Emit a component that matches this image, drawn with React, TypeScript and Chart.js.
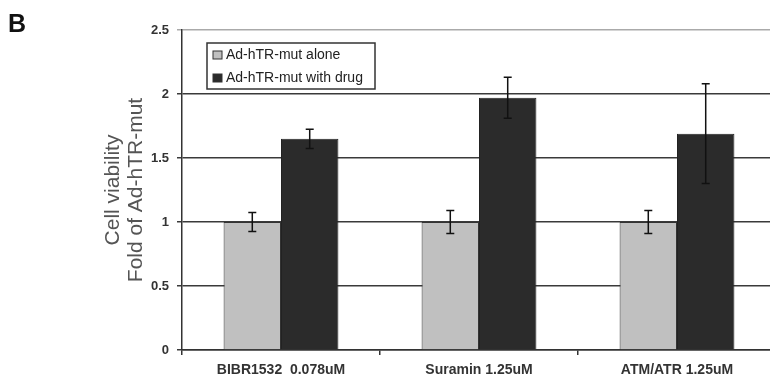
import React, { useEffect, useRef } from "react";
import { Chart, registerables } from "chart.js";

Chart.register(...registerables);

const categories = ["BIBR1532  0.078uM", "Suramin 1.25uM", "ATM/ATR 1.25uM"];
const aloneValues = [1, 1, 1];
const aloneErrors = [0.075, 0.09, 0.09];
const drugValues = [1.65, 1.97, 1.69];
const drugErrors = [0.075, 0.16, 0.39];
const seriesLabels = ["Ad-hTR-mut alone", "Ad-hTR-mut with drug"];
const yTitleLines = ["Cell viability", "Fold of Ad-hTR-mut"];
const panelLabel = "B";

const FONT = "'Liberation Sans', Arial, sans-serif";
const errorsBySeries = [aloneErrors, drugErrors];

const errorBarPlugin = {
  id: "errorBars",
  afterDatasetsDraw(chart: any) {
    const ctx = chart.ctx;
    const y = chart.scales.y;
    ctx.save();
    ctx.strokeStyle = "#111";
    ctx.lineWidth = 1.5;
    chart.data.datasets.forEach((ds: any, i: number) => {
      const meta = chart.getDatasetMeta(i);
      meta.data.forEach((el: any, j: number) => {
        const v = ds.data[j];
        const e = errorsBySeries[i][j];
        const yt = y.getPixelForValue(v + e);
        const yb = y.getPixelForValue(v - e);
        const x = el.x;
        const cap = 4;
        ctx.beginPath();
        ctx.moveTo(x, yt);
        ctx.lineTo(x, yb);
        ctx.moveTo(x - cap, yt);
        ctx.lineTo(x + cap, yt);
        ctx.moveTo(x - cap, yb);
        ctx.lineTo(x + cap, yb);
        ctx.stroke();
      });
    });
    ctx.restore();
  },
};

const decorPlugin = {
  id: "decor",
  afterDraw(chart: any) {
    const ctx = chart.ctx;
    const area = chart.chartArea;
    ctx.save();
    // panel label
    ctx.fillStyle = "#111";
    ctx.font = `bold 25px ${FONT}`;
    ctx.textAlign = "left";
    ctx.textBaseline = "middle";
    ctx.fillText(panelLabel, 8, 25);

    // y title
    const cy = (area.top + area.bottom) / 2;
    ctx.fillStyle = "#555";
    ctx.font = `21px ${FONT}`;
    ctx.textAlign = "center";
    ctx.textBaseline = "middle";
    const xs = [113, 136];
    yTitleLines.forEach((line, k) => {
      ctx.save();
      ctx.translate(xs[k], cy);
      ctx.rotate(-Math.PI / 2);
      ctx.fillText(line, 0, 0);
      ctx.restore();
    });

    // legend
    const lx = 207, ly = 43, lw = 168, lh = 46;
    ctx.fillStyle = "#fff";
    ctx.fillRect(lx, ly, lw, lh);
    ctx.strokeStyle = "#333";
    ctx.lineWidth = 1.5;
    ctx.strokeRect(lx, ly, lw, lh);
    ctx.font = `14px ${FONT}`;
    ctx.textAlign = "left";
    ctx.textBaseline = "middle";
    chart.data.datasets.forEach((ds: any, i: number) => {
      const rowY = ly + 12 + i * 23;
      ctx.fillStyle = ds.backgroundColor;
      ctx.fillRect(lx + 6, rowY - 4, 9, 8);
      ctx.strokeStyle = "#333";
      ctx.lineWidth = 1;
      ctx.strokeRect(lx + 6, rowY - 4, 9, 8);
      ctx.fillStyle = "#222";
      ctx.fillText(seriesLabels[i], lx + 19, rowY);
    });
    ctx.restore();
  },
};

export default function App() {
  const ref = useRef<HTMLCanvasElement>(null);
  useEffect(() => {
    document.body.style.margin = "0";
    const chart = new Chart(ref.current as HTMLCanvasElement, {
      type: "bar",
      data: {
        labels: categories,
        datasets: [
          {
            label: seriesLabels[0],
            data: aloneValues,
            backgroundColor: "#c0c0c0",
            borderColor: "#333",
            borderWidth: 1,
            barPercentage: 1,
            categoryPercentage: 0.58,
          },
          {
            label: seriesLabels[1],
            data: drugValues,
            backgroundColor: "#2b2b2b",
            borderColor: "#222",
            borderWidth: 1,
            barPercentage: 1,
            categoryPercentage: 0.58,
          },
        ],
      },
      options: {
        responsive: false,
        animation: false,
        devicePixelRatio: 1,
        layout: { padding: { left: 0, right: 0, top: 30, bottom: 0 } },
        plugins: {
          legend: { display: false },
          tooltip: { enabled: false },
        },
        scales: {
          x: {
            grid: {
              drawOnChartArea: false,
              drawTicks: true,
              tickLength: 5,
              color: "#333",
              lineWidth: 1.5,
            },
            border: { display: true, color: "#333", width: 1.5 },
            ticks: {
              color: "#333",
              font: { family: FONT, size: 14, weight: "bold" },
              maxRotation: 0,
              autoSkip: false,
              padding: 7,
            },
            afterFit: (s: any) => {
              s.height = 28;
            },
          },
          y: {
            min: 0,
            max: 2.5,
            grid: {
              color: (c: any) => (c.tick && c.tick.value === 2.5 ? "#aaa" : "#3a3a3a"),
              lineWidth: 1.5,
              tickLength: 5,
            },
            border: { display: true, color: "#333", width: 1.5 },
            ticks: {
              stepSize: 0.5,
              color: "#333",
              font: { family: FONT, size: 13, weight: "bold" },
              padding: 8,
              callback: (v: any) => String(v),
            },
            afterFit: (s: any) => {
              s.width = 182;
            },
          },
        },
      },
      plugins: [errorBarPlugin, decorPlugin],
    });
    return () => chart.destroy();
  }, []);
  return (
    <div style={{ position: "fixed", left: 0, top: 0, width: 770, height: 378, overflow: "hidden", background: "#fff" }}>
      <canvas ref={ref} width={776} height={378} style={{ display: "block" }} />
    </div>
  );
}
